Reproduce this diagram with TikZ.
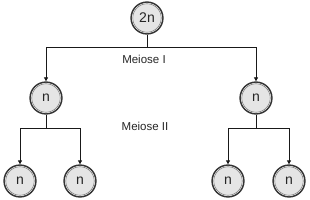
\documentclass[tikz,border=0pt]{standalone}
\usepackage{fontspec}
\setmainfont{Liberation Sans}
\usetikzlibrary{arrows.meta}
\begin{document}
\begin{tikzpicture}[x=1pt,y=-1pt,
  cell/.style={circle, minimum size=28.5pt, inner sep=0pt, outer sep=2.4pt,
    preaction={draw=black!80, line width=4.8pt},
    preaction={draw=white, line width=1.6pt},
    fill=black!10, draw=black!50, line width=0.6pt,
    font=\fontsize{14}{14}\selectfont, text=black!85},
  conn/.style={draw=black!90, line width=0.8pt},
  arr/.style={conn, -{Triangle[length=4pt,width=4pt]}},
  lbl/.style={font=\fontsize{11.5}{11.5}\selectfont, text=black!85}]
\useasboundingbox (0,0) rectangle (310,200);
\node[cell] (top) at (147,18) {2n};
\node[cell] (ml) at (46,98) {n};
\node[cell] (mr) at (256,98) {n};
\node[cell] (b1) at (20,181) {n};
\node[cell] (b2) at (80,181) {n};
\node[cell] (b3) at (228,181) {n};
\node[cell] (b4) at (289,181) {n};
\coordinate (j0) at (147,47);
\coordinate (jl) at (46,128);
\coordinate (jr) at (256,128);
\draw[conn] (top.south) -- (j0);
\draw[arr] (j0) -| (ml.north);
\draw[arr] (j0) -| (mr.north);
\draw[conn] (ml.south) -- (jl);
\draw[arr] (jl) -| (b1.north);
\draw[arr] (jl) -| (b2.north);
\draw[conn] (mr.south) -- (jr);
\draw[arr] (jr) -| (b3.north);
\draw[arr] (jr) -| (b4.north);
\node[lbl] (t1) at (144,59) {Meiose I};
\node[lbl] (t2) at (145,126) {Meiose II};
\end{tikzpicture}
\end{document}
